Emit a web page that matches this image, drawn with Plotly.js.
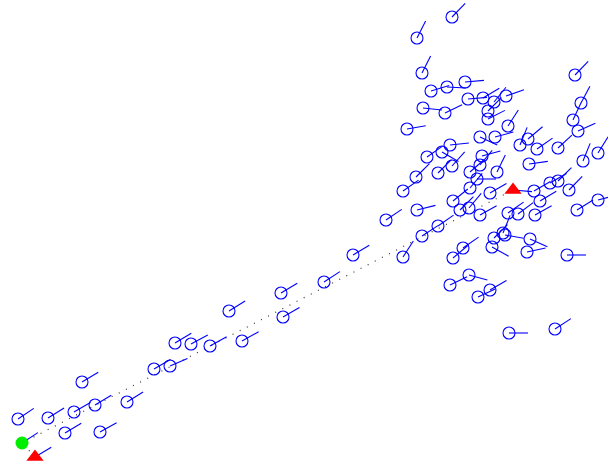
<!DOCTYPE html>
<html>
<head>
<meta charset="utf-8">
<script src="https://cdn.plot.ly/plotly-3.0.1.min.js"></script>
<style>html,body{margin:0;padding:0;background:#fff}#chart{width:608px;height:471px}</style>
</head>
<body>
<div id="chart"></div>
<script>
// Observation positions (plot units, y downward) and direction angles (degrees)
const obsX = [452,417,422,575,431,447,465,468,483,494,506,488,488,423,445,407,581,573,578,508,528,520,537,558,598,583,480,495,450,442,427,452,438,416,403,470,480,482,497,477,470,490,453,460,469,480,438,422,417,386,453,463,494,503,530,527,492,505,567,469,450,490,478,509,555,403,534,550,558,569,540,508,518,535,577,598,529,
              154,170,82,127,95,74,48,18,65,100,353,324,281,229,283,242,175,191,210];
const obsY = [17,38,73,75,91,87,82,99,98,102,96,111,119,108,113,129,103,120,131,126,139,145,149,148,153,161,137,137,145,152,157,166,173,177,191,172,165,156,172,179,188,193,201,210,208,215,226,236,210,220,258,248,238,233,239,252,247,235,255,275,285,290,297,333,329,257,191,183,181,190,201,213,214,215,210,200,164,
              369,366,382,402,405,412,418,419,433,432,255,282,293,311,317,341,343,344,346];
const obsAngle = [46,63,63,46,17,-3,5,5,31,51,19,45,27,-6,26,10,62,65,24,57,40,68,35,43,58,68,-25,15,6,-30,35,48,45,45,35,41,50,15,64,0,50,30,39,45,50,29,35,33,14,34,40,35,45,68,-24,12,-29,-10,0,-15,26,30,25,0,33,57,30,30,45,46,31,35,37,29,32,15,8,
                  30,23,31,32,31,30,32,34,31,29,31,33,31,32,30,29,31,28,29];

// Start point (green) and end points (red triangles)
const startX = [22], startY = [443], startAngle = [33];
const endX = [35, 513], endY = [457, 190], endAngle = [31, -5];

// Track (dotted) through: first triangle -> start -> last triangle
const trackX = [35, 22, 513];
const trackY = [457, 443, 190];

const SEG = 19;
function segs(xs, ys, as) {
  const sx = [], sy = [];
  for (let i = 0; i < xs.length; i++) {
    const r = as[i] * Math.PI / 180;
    sx.push(xs[i], xs[i] + SEG * Math.cos(r), null);
    sy.push(ys[i], ys[i] - SEG * Math.sin(r), null);
  }
  return {sx, sy};
}
const allX = obsX.concat(startX, endX);
const allY = obsY.concat(startY, endY);
const allA = obsAngle.concat(startAngle, endAngle);
const s = segs(allX, allY, allA);

const traces = [
  {x: trackX, y: trackY, mode: 'lines', line: {color: '#333', width: 1.2, dash: '1px,7px'}, hoverinfo: 'skip'},
  {x: s.sx, y: s.sy, mode: 'lines', line: {color: '#0000ff', width: 1.1}, hoverinfo: 'skip'},
  {x: obsX, y: obsY, mode: 'markers', marker: {symbol: 'circle-open', size: 12, color: '#0000ff', line: {width: 1.1, color: '#0000ff'}}},
  {x: startX, y: startY, mode: 'markers', marker: {symbol: 'circle', size: 13, color: '#00ee00', line: {width: 0}}},
  {x: endX, y: endY, mode: 'markers', marker: {symbol: 'triangle-up', size: 15, color: '#ff0000', line: {width: 0}}}
];

const layout = {
  width: 608, height: 471,
  margin: {l: 0, r: 0, t: 0, b: 0},
  paper_bgcolor: '#fff', plot_bgcolor: '#fff',
  showlegend: false,
  xaxis: {range: [0, 608], visible: false, fixedrange: true},
  yaxis: {range: [471, 0], visible: false, fixedrange: true}
};
Plotly.newPlot('chart', traces, layout, {displayModeBar: false, staticPlot: true});
</script>
</body>
</html>
